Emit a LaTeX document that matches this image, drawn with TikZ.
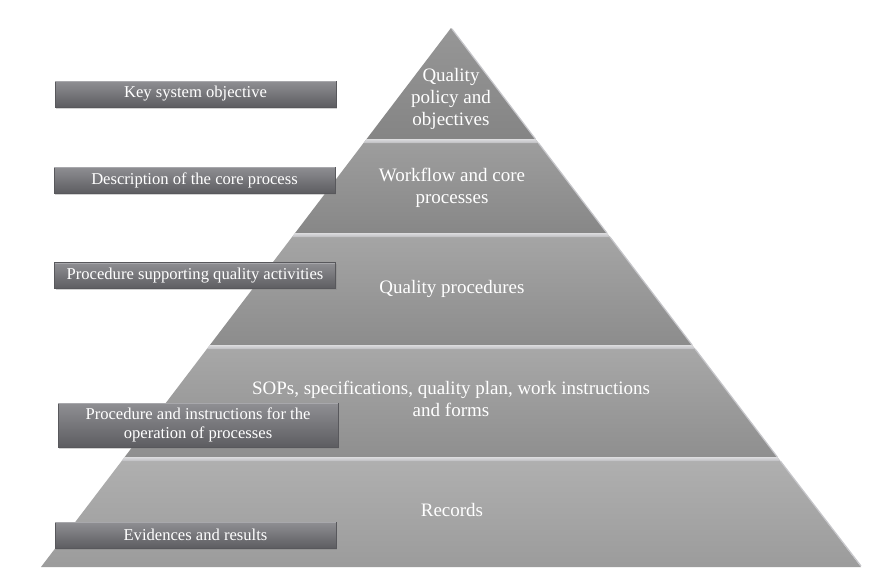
\documentclass[tikz,border=0pt]{standalone}
\usepackage{fontspec}
\setmainfont{Liberation Serif}
\usetikzlibrary{shadows}
\definecolor{boxtop}{HTML}{8F8F93}
\definecolor{boxbot}{HTML}{5D5D61}
\definecolor{boxedge}{HTML}{58585C}
\definecolor{boxhi}{HTML}{A8A8AC}
\definecolor{bevel}{HTML}{DCDCDE}
\definecolor{bevelb}{HTML}{BDBDC1}
\definecolor{edgehi}{HTML}{C6C6CA}
\begin{document}
\begin{tikzpicture}[x=1pt,y=-1pt,
  lbox/.style={rectangle, minimum width=281pt, minimum height=26pt, inner sep=0pt,
    top color=boxtop, bottom color=boxbot, draw=boxedge, line width=0.4pt,
    drop shadow={shadow xshift=1.2pt, shadow yshift=-1.5pt, opacity=0.35},
    text=white, font=\fontsize{16.6}{19}\selectfont, align=center},
  ptext/.style={text=white, font=\fontsize{19}{22}\selectfont, align=center, inner sep=0pt},
  bevelstrip/.style={top color=bevel, bottom color=bevelb},
  rimline/.style={draw=edgehi, line width=1.2pt},
  boxtopline/.style={draw=boxhi, line width=1pt}
]
\useasboundingbox (0,0) rectangle (877,587);
\fill[white] (0,0) rectangle (877,587);

% layers
\path[top color=black!41, bottom color=black!48] (451,28) -- (535.4,139) -- (366.6,139) -- cycle;
\path[top color=black!38, bottom color=black!47] (366.6,139) -- (535.4,139) -- (606.9,233) -- (295.1,233) -- cycle;
\path[top color=black!35, bottom color=black!45] (295.1,233) -- (606.9,233) -- (692.1,345) -- (209.9,345) -- cycle;
\path[top color=black!34, bottom color=black!44] (209.9,345) -- (692.1,345) -- (777.3,457) -- (124.7,457) -- cycle;
\path[top color=black!31, bottom color=black!39] (124.7,457) -- (777.3,457) -- (861,567) -- (41,567) -- cycle;

% bevel strips
\path[bevelstrip] (366.6,139) -- (535.4,139) -- (538.4,143) -- (363.6,143) -- cycle;
\path[bevelstrip] (295.1,233) -- (606.9,233) -- (609.9,237) -- (292.1,237) -- cycle;
\path[bevelstrip] (209.9,345) -- (692.1,345) -- (695.1,349) -- (206.9,349) -- cycle;
\path[bevelstrip] (124.7,457) -- (777.3,457) -- (780.3,461) -- (121.7,461) -- cycle;

% right rims
\draw[rimline] (452,29) -- (535.4,139);
\draw[rimline] (538.4,143) -- (606.9,233);
\draw[rimline] (609.9,237) -- (692.1,345);
\draw[rimline] (695.1,349) -- (777.3,457);
\draw[rimline] (780.3,461) -- (861,566);

% pyramid texts
\node[ptext] (t1) at (451,99) {Quality\\policy and\\objectives};
\node[ptext] (t2) at (452,187.5) {Workflow and core\\processes};
\node[ptext] (t3) at (452,288.5) {Quality procedures};
\node[ptext] (t4) at (451,399) {SOPs, specifications, quality plan, work instructions\\and forms};
\node[ptext] (t5) at (452,509.5) {Records};

% left boxes
\node[lbox] (b1) at (195.5,94) {Key system objective};
\node[lbox] (b2) at (194.5,180) {Description of the core process};
\node[lbox] (b3) at (195,275.5) {Procedure supporting quality activities};
\node[lbox, minimum width=280pt, minimum height=44pt] (b4) at (198,425) {Procedure and instructions for the\\operation of processes};
\node[lbox] (b5) at (195.5,535) {Evidences and results};
\foreach \b in {b1,b2,b3,b4,b5}{
  \draw[boxtopline] ([xshift=0.6pt,yshift=-0.8pt]\b.north west) -- ([xshift=-0.6pt,yshift=-0.8pt]\b.north east);
}
\end{tikzpicture}
\end{document}
